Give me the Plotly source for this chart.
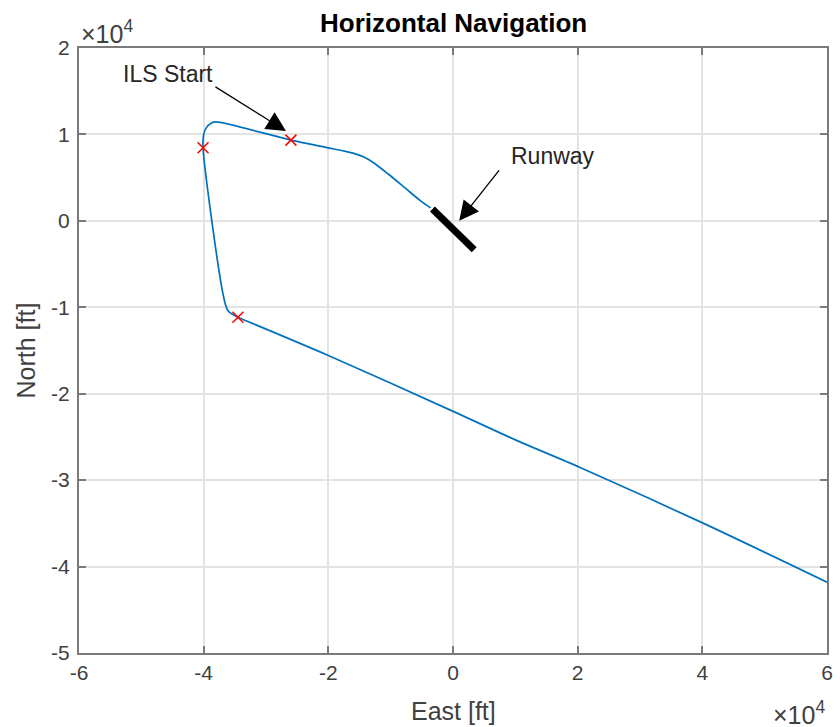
import plotly.graph_objects as go

# Trajectory (East, North) in feet, from start to runway
east_ft = [60000, 40200, 20300, 10200, 200, -20000, -32700, -34500, -36100, -36900,
           -40100, -40000, -39600, -38800, -38000, -26000, -20000, -17500, -15800, -14300,
           -12800, -10400, -7700, -5200, -3600]
north_ft = [-41800, -35000, -28500, -25400, -22100, -15570, -11700, -11150, -10400, -8450,
            8450, 10000, 10760, 11300, 11450, 9340, 8450, 8080, 7780, 7380,
            6750, 5420, 3810, 2310, 1500]

# Waypoint markers
wp_east = [-40100, -26000, -34500]
wp_north = [8450, 9340, -11150]

# Runway segment
rwy_east = [-3300, 3400]
rwy_north = [1380, -3350]

x_ticks = [-60000, -40000, -20000, 0, 20000, 40000, 60000]
x_labels = ["-6", "-4", "-2", "0", "2", "4", "6"]
y_ticks = [-50000, -40000, -30000, -20000, -10000, 0, 10000, 20000]
y_labels = ["-5", "-4", "-3", "-2", "-1", "0", "1", "2"]

FONT = "Liberation Sans, Arial, sans-serif"
TXT = "#404040"

fig = go.Figure()
fig.add_trace(go.Scatter(x=east_ft, y=north_ft, mode="lines",
                         line=dict(color="#0072BD", width=1.7, shape="spline", smoothing=0.8),
                         showlegend=False, hoverinfo="skip"))
fig.add_trace(go.Scatter(x=rwy_east, y=rwy_north, mode="lines",
                         line=dict(color="black", width=7), showlegend=False))
fig.add_trace(go.Scatter(x=wp_east, y=wp_north, mode="markers",
                         marker=dict(symbol="x-thin", size=11, line=dict(color="#FF0000", width=1.5)),
                         showlegend=False))

axis_common = dict(showline=True, linecolor="#7a7a7a", linewidth=2, mirror="ticks",
                   ticks="inside", ticklen=7, tickwidth=2, tickcolor="#7a7a7a",
                   showgrid=True, gridcolor="#e3e3e3", gridwidth=1.5, zeroline=False,
                   tickfont=dict(family=FONT, size=21, color=TXT))

fig.update_layout(
    width=840, height=727,
    margin=dict(l=79, r=7, t=48, b=74),
    paper_bgcolor="white", plot_bgcolor="white",
    xaxis=dict(range=[-60000, 60000], tickvals=x_ticks, ticktext=x_labels, **axis_common),
    yaxis=dict(range=[-50000, 20000], tickvals=y_ticks, ticktext=y_labels, ticklabelstandoff=3, **axis_common),
    annotations=[
        dict(text="<b>Horizontal Navigation</b>", xref="paper", yref="paper", x=0.5, y=1,
             yanchor="middle", yshift=25, showarrow=False,
             font=dict(family=FONT, size=26, color="black")),
        dict(text="East [ft]", xref="paper", yref="paper", x=0.5, y=0, yanchor="middle",
             yshift=-58, showarrow=False, font=dict(family=FONT, size=25, color=TXT)),
        dict(text="North [ft]", xref="paper", yref="paper", x=0, y=0.5, xanchor="center",
             xshift=-54, textangle=-90, showarrow=False, font=dict(family=FONT, size=25, color=TXT)),
        dict(text="×10<sup>4</sup>", xref="paper", yref="paper", x=0, y=1, xanchor="left",
             yanchor="bottom", yshift=-2, showarrow=False, font=dict(family=FONT, size=25, color=TXT)),
        dict(text="×10<sup>4</sup>", xref="paper", yref="paper", x=1, y=0, xanchor="right",
             yanchor="middle", yshift=-60, showarrow=False, font=dict(family=FONT, size=25, color=TXT)),
        dict(text="ILS Start", x=-45700, y=16950, showarrow=False,
             font=dict(family=FONT, size=23, color="#262626")),
        dict(text="", x=-26800, y=10400, ax=-72, ay=-45, showarrow=True,
             arrowhead=2, arrowsize=3, arrowwidth=1.3, arrowcolor="black"),
        dict(text="Runway", x=16000, y=7500, showarrow=False,
             font=dict(family=FONT, size=23, color="#262626")),
        dict(text="", x=1000, y=0, ax=41, ay=-52, showarrow=True,
             arrowhead=2, arrowsize=3, arrowwidth=1.3, arrowcolor="black"),
    ],
)

fig.write_html("out.html")
